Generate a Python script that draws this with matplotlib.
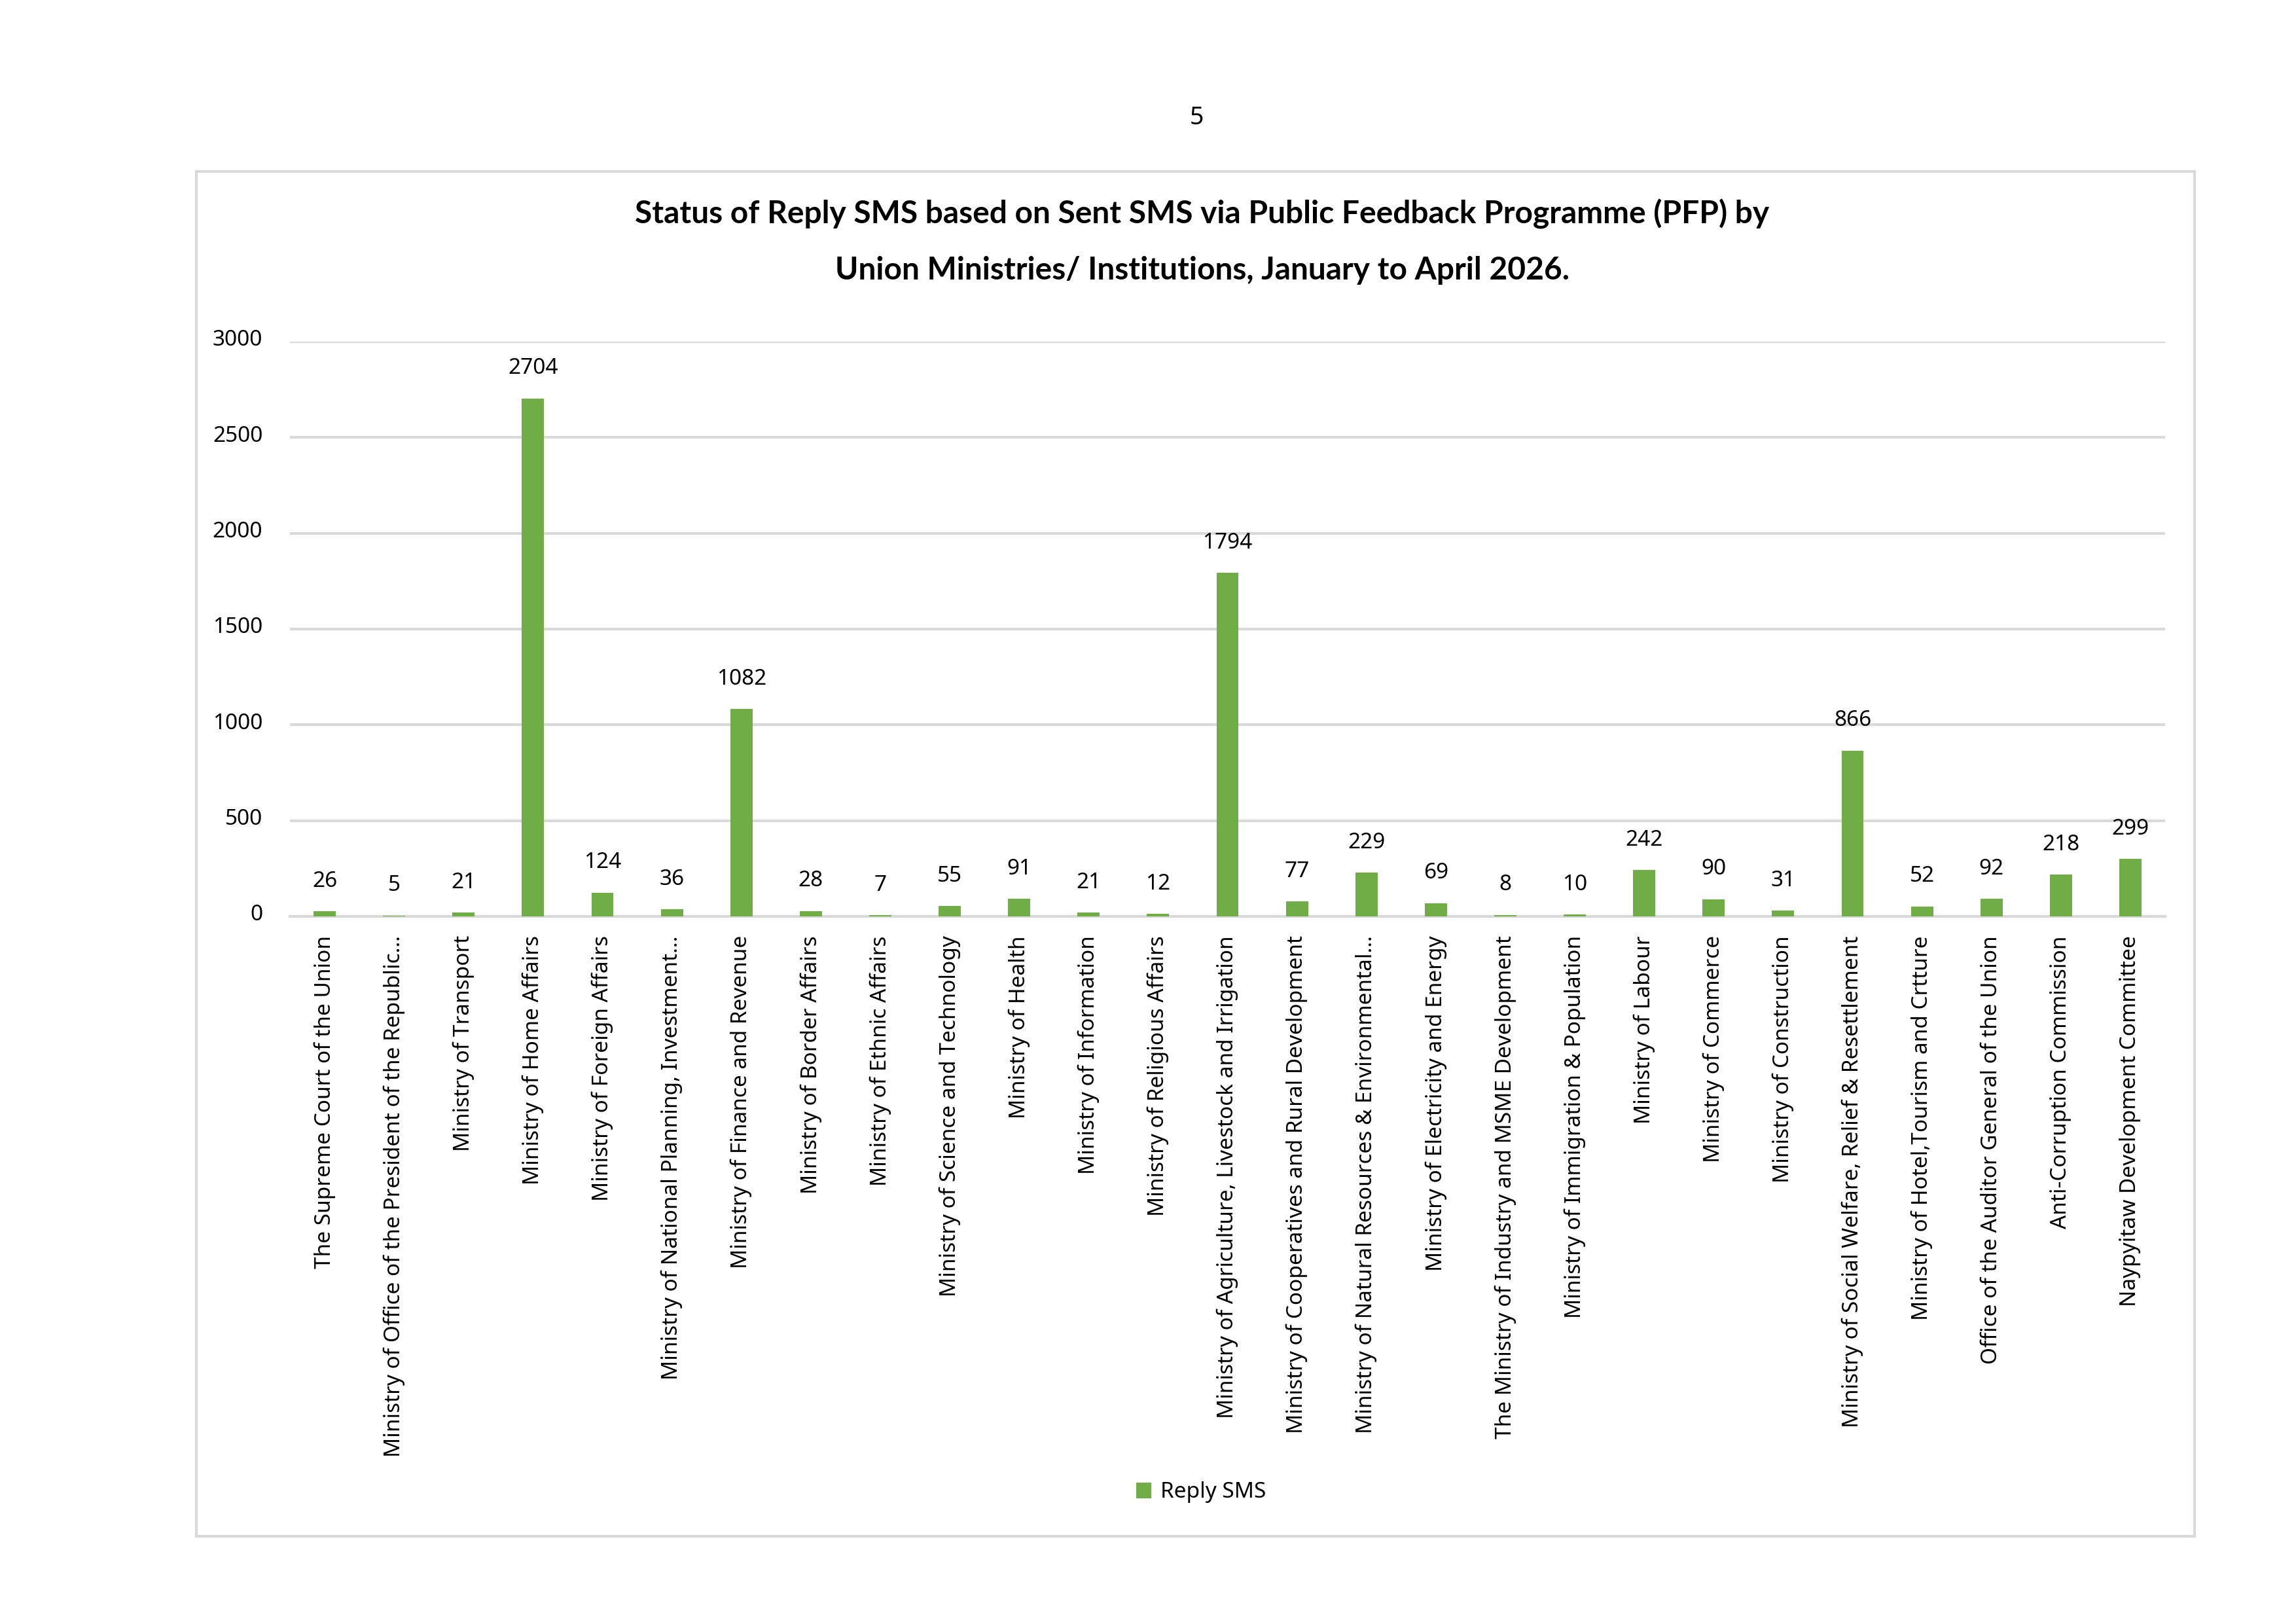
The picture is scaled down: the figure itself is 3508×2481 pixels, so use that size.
import matplotlib
matplotlib.use('Agg')
import matplotlib.pyplot as plt
import matplotlib.transforms as mtransforms
from matplotlib.patches import Rectangle

plt.rcParams['font.family'] = ['Noto Sans', 'DejaVu Sans']

# Chart data
categories = [
    'The Supreme Court of the Union',
    'Ministry of Office of the President of the Republic…',
    'Ministry of Transport',
    'Ministry of Home Affairs',
    'Ministry of Foreign Affairs',
    'Ministry of National Planning, Investment…',
    'Ministry of Finance and Revenue',
    'Ministry of Border Affairs',
    'Ministry of Ethnic Affairs',
    'Ministry of Science and Technology',
    'Ministry of Health',
    'Ministry of Information',
    'Ministry of Religious Affairs',
    'Ministry of Agriculture, Livestock and Irrigation',
    'Ministry of Cooperatives and Rural Development',
    'Ministry of Natural Resources & Environmental…',
    'Ministry of Electricity and Energy',
    'The Ministry of Industry and MSME Development',
    'Ministry of Immigration & Population',
    'Ministry of Labour',
    'Ministry of Commerce',
    'Ministry of Construction',
    'Ministry of Social Welfare, Relief & Resettlement',
    'Ministry of Hotel,Tourism and Crtture',
    'Office of the Auditor General of the Union',
    'Anti-Corruption Commission',
    'Naypyitaw Development Committee',
]
reply_sms = [26, 5, 21, 2704, 124, 36, 1082, 28, 7, 55, 91, 21, 12, 1794,
             77, 229, 69, 8, 10, 242, 90, 31, 866, 52, 92, 218, 299]
y_ticks = [0, 500, 1000, 1500, 2000, 2500, 3000]

W, H = 3508, 2481
fig = plt.figure(figsize=(W / 300, H / 300), dpi=300)

# outer chart border
fig.patches.append(Rectangle((300 / W, 1 - 2347 / H), (3353 - 300) / W, (2347 - 262) / H,
                             transform=fig.transFigure, fill=False,
                             edgecolor='#D9D9D9', linewidth=1.0))

ax = fig.add_axes([443 / W, 1 - 1400 / H, (3308 - 443) / W, (1400 - 522) / H])

x = list(range(len(categories)))
bars = ax.bar(x, reply_sms, width=0.32, color='#70AD47', label='Reply SMS', zorder=3)

for xi, v in zip(x, reply_sms):
    ax.annotate(str(v), (xi, v), xytext=(0, 11), textcoords='offset points',
                ha='center', va='center', fontsize=8, color='#000000')

ax.set_xlim(-0.5, len(categories) - 0.5)
ax.set_ylim(0, 3000)
ax.set_yticks(y_ticks)
ax.set_yticklabels([str(t) for t in y_ticks], fontsize=8)
ax.set_xticks(x)
ax.set_xticklabels(categories, rotation=90, fontsize=8, va='top', ha='center')
ax.tick_params(axis='x', length=0, pad=7)
ax.tick_params(axis='y', length=0, pad=10)
ax.grid(axis='y', color='#D9D9D9', linewidth=1.0, zorder=0)
for s in ['top', 'right', 'left']:
    ax.spines[s].set_visible(False)
ax.spines['bottom'].set_color('#D9D9D9')
ax.spines['bottom'].set_linewidth(1.0)

# nudge y tick labels up a little, as in the original
shift = mtransforms.ScaledTranslation(0, 1.5 / 72, fig.dpi_scale_trans)
for lbl in ax.get_yticklabels():
    lbl.set_transform(lbl.get_transform() + shift)

fig.text(1828 / W, 1 - 180 / H, '5', ha='center', va='center', fontsize=9)
fig.text(1837 / W, 1 - 327 / H,
         'Status of Reply SMS based on Sent SMS via Public Feedback Programme (PFP) by',
         ha='center', va='center', fontsize=11.5, fontweight='bold', family='Lato')
fig.text(1837 / W, 1 - 413 / H,
         'Union Ministries/ Institutions, January to April 2026.',
         ha='center', va='center', fontsize=11.5, fontweight='bold', family='Lato')

fig.legend(handles=[bars], labels=['Reply SMS'], loc='center',
           bbox_to_anchor=(1835 / W, 1 - 2280 / H), frameon=False, fontsize=8,
           handlelength=0.7, handleheight=0.7, handletextpad=0.4)

fig.savefig('out.png', dpi=300)
